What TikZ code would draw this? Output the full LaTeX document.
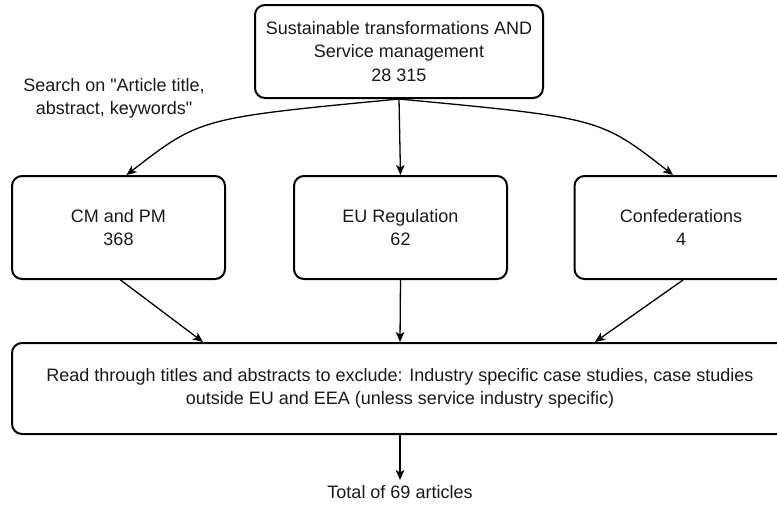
\documentclass[tikz,border=0pt]{standalone}
\usepackage{fontspec}
\setmainfont{Liberation Sans}[Ligatures=TeXOff]
\usetikzlibrary{arrows.meta}

\begin{document}
\begin{tikzpicture}[x=1pt,y=-1pt,
  every node/.style={font=\fontsize{18}{23.5}\selectfont, align=center, text=black!90},
  stagebox/.style={draw=black, line width=2pt, rounded corners=10pt, inner sep=0pt},
  flow/.style={draw=black, line width=1.3pt,
    -{Stealth[length=10pt, width=8.5pt, inset=2.5pt]}},
]
\useasboundingbox (0,0) rectangle (777,515);
\clip (0,0) rectangle (777,515);

% search string
\node[stagebox, minimum width=288pt, minimum height=93pt] (query) at (399,51.5)
  {Sustainable transformations AND\\Service management\\28 315};
\node (scope) at (114,98.5) {Search on "Article title,\\abstract, keywords"};

% databases
\node[stagebox, minimum width=213pt, minimum height=103pt] (cmpm) at (118.5,227.5)
  {CM and PM\\368};
\node[stagebox, minimum width=213pt, minimum height=103pt] (eureg) at (400.5,227.5)
  {EU Regulation\\62};
\node[stagebox, minimum width=213pt, minimum height=103pt] (confed) at (681,227.5)
  {Confederations\\4};

% screening step
\node[stagebox, minimum width=776pt, minimum height=91pt] (screen) at (400,388.5)
  {Read through titles and abstracts to exclude: Industry specific case studies, case studies\\outside EU and EEA (unless service industry specific)};
\node[anchor=north, inner sep=5pt] (total) at (400,480) {Total of 69 articles};

% connectors
\draw[flow] (query.south) .. controls (200,118) .. ([xshift=8pt]cmpm.north);
\draw[flow] (query.south) -- (eureg.north);
\draw[flow] (query.south) .. controls (600,118) .. ([xshift=-8pt]confed.north);

\draw[flow] ([xshift=2pt]cmpm.south) -- ([xshift=-197pt]screen.north);
\draw[flow] (eureg.south) -- (screen.north);
\draw[flow] ([xshift=2pt]confed.south) -- ([xshift=195pt]screen.north);

\draw[flow] (screen.south) -- (total.north);
\end{tikzpicture}
\end{document}
